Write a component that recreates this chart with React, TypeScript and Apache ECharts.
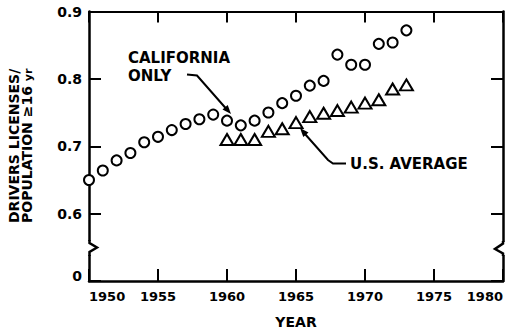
import React, { useEffect, useRef } from "react";
import * as echarts from "echarts";

const caYears = [1950, 1951, 1952, 1953, 1954, 1955, 1956, 1957, 1958, 1959, 1960, 1961, 1962, 1963, 1964, 1965, 1966, 1967, 1968, 1969, 1970, 1971, 1972, 1973];
const caValues = [0.650, 0.664, 0.679, 0.690, 0.706, 0.714, 0.724, 0.733, 0.740, 0.747, 0.738, 0.731, 0.738, 0.750, 0.764, 0.775, 0.790, 0.797, 0.836, 0.821, 0.821, 0.852, 0.854, 0.872];
const usYears = [1960, 1961, 1962, 1963, 1964, 1965, 1966, 1967, 1968, 1969, 1970, 1971, 1972, 1973];
const usValues = [0.710, 0.710, 0.710, 0.722, 0.726, 0.735, 0.744, 0.749, 0.753, 0.758, 0.764, 0.769, 0.785, 0.791];

const xTicks = [1950, 1955, 1960, 1965, 1970, 1975, 1980];
const yTickLabels: Record<string, string> = { "0.5": "0", "0.6": "0.6", "0.7": "0.7", "0.8": "0.8", "0.9": "0.9" };

const FONT = '"DejaVu Sans", sans-serif';

export default function App() {
  const ref = useRef<HTMLDivElement>(null);
  useEffect(() => {
    if (!ref.current) return;
    const chart = echarts.init(ref.current, undefined, { renderer: "svg" });
    const axisLine = { show: true, lineStyle: { color: "#000", width: 2.5 } };
    const tickStyle = { color: "#000", width: 2 };
    const caData = caYears.map((y, i) => [y, caValues[i]]);
    const usData = usYears.map((y, i) => [y, usValues[i]]);
    const black = "#000";
    chart.setOption({
      animation: false,
      backgroundColor: "#fff",
      grid: { left: 89, right: 3, top: 11.5, bottom: 52, containLabel: false },
      xAxis: [
        {
          type: "value",
          min: xTicks[0],
          max: xTicks[xTicks.length - 1],
          interval: 5,
          position: "bottom",
          axisLine,
          axisTick: { show: true, inside: true, length: 12, lineStyle: tickStyle },
          splitLine: { show: false },
          axisLabel: {
            show: true,
            color: black,
            fontFamily: FONT,
            fontWeight: "bold",
            fontSize: 13,
            margin: 9,
            showMinLabel: true,
            showMaxLabel: true,
            alignMinLabel: "left",
            alignMaxLabel: "right",
            formatter: (v: number) => String(Math.round(v)),
          },
          name: "YEAR",
          nameLocation: "middle",
          nameGap: 34,
          nameTextStyle: { color: black, fontFamily: FONT, fontWeight: "bold", fontSize: 14 },
        },
        {
          type: "value",
          min: xTicks[0],
          max: xTicks[xTicks.length - 1],
          interval: 5,
          position: "top",
          axisLine: { show: true, lineStyle: { color: "#000", width: 2.2 } },
          axisTick: { show: true, inside: true, length: 11, lineStyle: tickStyle },
          splitLine: { show: false },
          axisLabel: { show: false },
        },
      ],
      yAxis: [
        {
          type: "value",
          min: 0.5,
          max: 0.9,
          interval: 0.1,
          position: "left",
          axisLine,
          axisTick: { show: true, inside: true, length: 12, lineStyle: tickStyle },
          splitLine: { show: false },
          axisLabel: {
            show: true,
            color: black,
            fontFamily: FONT,
            fontWeight: "bold",
            fontSize: 14,
            margin: 7,
            showMinLabel: true,
            showMaxLabel: true,
            formatter: (v: number) => {
              const key = v.toFixed(1);
              const t = yTickLabels[key] ?? key;
              return key === "0.5" ? "{z|" + t + "}" : t;
            },
            rich: {
              z: { fontFamily: FONT, fontWeight: "bold", fontSize: 14, color: black, padding: [0, 0, 10, 0] },
            },
          },
        },
        {
          type: "value",
          min: 0.5,
          max: 0.9,
          interval: 0.1,
          position: "right",
          axisLine,
          axisTick: { show: true, inside: true, length: 12, lineStyle: tickStyle },
          splitLine: { show: false },
          axisLabel: { show: false },
        },
      ],
      series: [
        {
          name: "California only",
          type: "scatter",
          xAxisIndex: 0,
          yAxisIndex: 0,
          data: caData,
          symbol: "circle",
          symbolSize: 10,
          clip: false,
          itemStyle: { color: "#fff", borderColor: black, borderWidth: 2, opacity: 1 },
        },
        {
          name: "U.S. average",
          type: "scatter",
          xAxisIndex: 0,
          yAxisIndex: 0,
          data: usData,
          symbol: "triangle",
          symbolSize: [13, 11],
          clip: false,
          itemStyle: { color: "#fff", borderColor: black, borderWidth: 2, opacity: 1 },
        },
      ],
      graphic: [
        // axis breaks
        { type: "rect", z: 100, shape: { x: 86, y: 241, width: 7, height: 14 }, style: { fill: "#fff" } },
        { type: "polyline", z: 101, shape: { points: [[89.5, 240], [89.5, 243], [97, 247.5], [89.5, 252], [89.5, 256]] }, style: { stroke: black, lineWidth: 2.5, fill: "none" } },
        { type: "rect", z: 100, shape: { x: 500, y: 242, width: 6, height: 13 }, style: { fill: "#fff" } },
        { type: "polyline", z: 101, shape: { points: [[503, 241], [503, 243.5], [495, 249], [503, 253.5], [503, 256]] }, style: { stroke: black, lineWidth: 2.5, fill: "none" } },
        // y axis title
        {
          type: "text", z: 100, x: 13.5, y: 223, rotation: Math.PI / 2,
          style: { text: "DRIVERS LICENSES/", fontFamily: FONT, fontWeight: "bold", fontSize: 14, fill: black, align: "left", verticalAlign: "middle" },
        },
        {
          type: "text", z: 100, x: 26.5, y: 223, rotation: Math.PI / 2,
          style: {
            text: "{a|POPULATION \u226516 }{b|yr}",
            align: "left",
            verticalAlign: "middle",
            rich: {
              a: { fontFamily: FONT, fontWeight: "bold", fontSize: 14, fill: black, color: black },
              b: { fontFamily: FONT, fontWeight: "bold", fontSize: 11, fill: black, color: black, padding: [4, 0, 0, 0] },
            },
          },
        },
        // California annotation
        { type: "text", z: 100, x: 128, y: 57.5, style: { text: "CALIFORNIA", fontFamily: FONT, fontWeight: "bold", fontSize: 15, fill: black, verticalAlign: "middle" } },
        { type: "text", z: 100, x: 128, y: 76, style: { text: "ONLY", fontFamily: FONT, fontWeight: "bold", fontSize: 15, fill: black, verticalAlign: "middle" } },
        { type: "polyline", z: 100, shape: { points: [[187, 74.5], [197, 75.5], [226, 108.5]] }, style: { stroke: black, lineWidth: 2, fill: "none" } },
        { type: "polygon", z: 100, shape: { points: [[231, 114], [222.5, 109.5], [227.7, 104.9]] }, style: { fill: black } },
        // US annotation
        { type: "text", z: 100, x: 350, y: 163.5, style: { text: "U.S. AVERAGE", fontFamily: FONT, fontWeight: "bold", fontSize: 15, fill: black, verticalAlign: "middle" } },
        { type: "polyline", z: 100, shape: { points: [[346, 163.5], [333, 163.5], [328, 160], [305, 134]] }, style: { stroke: black, lineWidth: 2, fill: "none" } },
        { type: "polygon", z: 100, shape: { points: [[300, 128], [308.5, 132.5], [303.3, 137.1]] }, style: { fill: black } },
      ],
    });
    return () => chart.dispose();
  }, []);
  return <div ref={ref} style={{ width: 506, height: 334, position: "absolute", left: 0, top: 0 }} />;
}
